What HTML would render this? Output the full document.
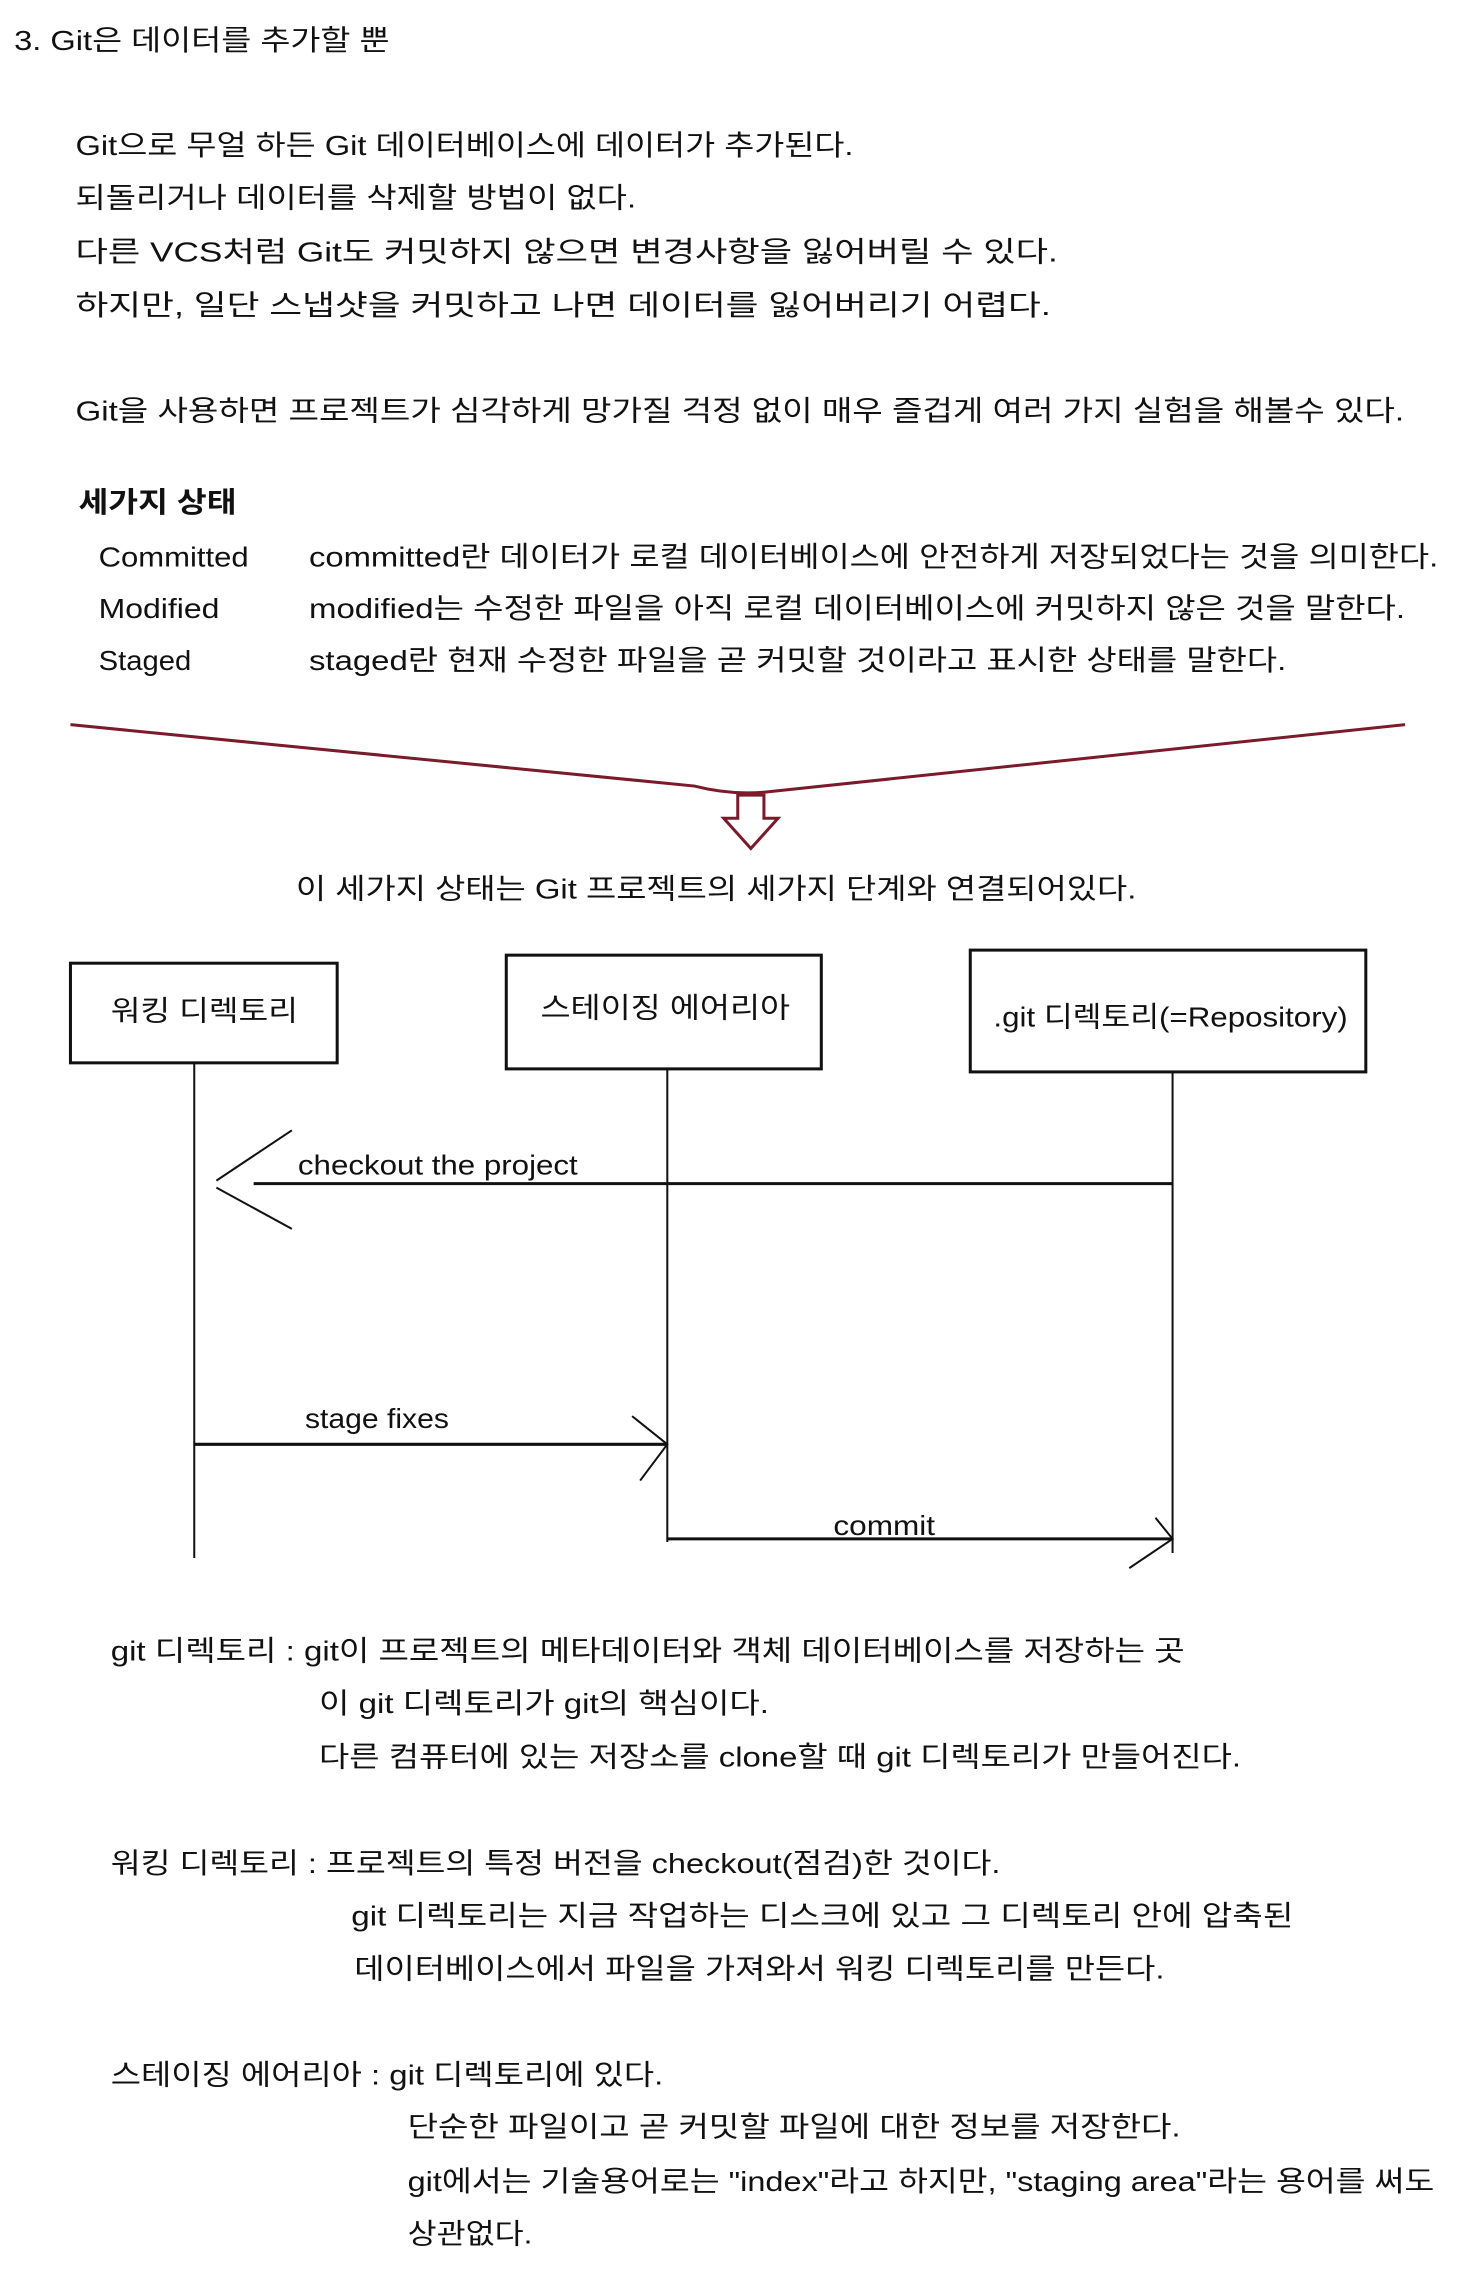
<!DOCTYPE html>
<html><head><meta charset="utf-8"><style>
html,body{margin:0;padding:0;background:#fff;}
svg{display:block;}
text{font-family:"Liberation Sans","Noto Sans CJK KR",sans-serif;font-size:28px;fill:#111;dominant-baseline:central;}
</style></head><body>
<svg width="1477" height="2276" viewBox="0 0 1477 2276" xmlns="http://www.w3.org/2000/svg">
<g transform="translate(0,3) scale(1.0065,1.0065)">
<text x="14" y="37" textLength="373" lengthAdjust="spacingAndGlyphs">3. Git은 데이터를 추가할 뿐</text>
<text x="75" y="141" textLength="773" lengthAdjust="spacingAndGlyphs">Git으로 무얼 하든 Git 데이터베이스에 데이터가 추가된다.</text>
<text x="75" y="193" textLength="557" lengthAdjust="spacingAndGlyphs">되돌리거나 데이터를 삭제할 방법이 없다.</text>
<text x="75" y="247" textLength="976" lengthAdjust="spacingAndGlyphs">다른 VCS처럼 Git도 커밋하지 않으면 변경사항을 잃어버릴 수 있다.</text>
<text x="75" y="300" textLength="969" lengthAdjust="spacingAndGlyphs">하지만, 일단 스냅샷을 커밋하고 나면 데이터를 잃어버리기 어렵다.</text>
<text x="75" y="405" textLength="1320" lengthAdjust="spacingAndGlyphs">Git을 사용하면 프로젝트가 심각하게 망가질 걱정 없이 매우 즐겁게 여러 가지 실험을 해볼수 있다.</text>
<text x="78" y="496" textLength="157" lengthAdjust="spacingAndGlyphs" font-weight="bold">세가지 상태</text>
<text x="98" y="550" textLength="149" lengthAdjust="spacingAndGlyphs">Committed</text>
<text x="98" y="601" textLength="120" lengthAdjust="spacingAndGlyphs">Modified</text>
<text x="98" y="653" textLength="92" lengthAdjust="spacingAndGlyphs">Staged</text>
<text x="307" y="550" textLength="1122" lengthAdjust="spacingAndGlyphs">committed란 데이터가 로컬 데이터베이스에 안전하게 저장되었다는 것을 의미한다.</text>
<text x="307" y="601" textLength="1089" lengthAdjust="spacingAndGlyphs">modified는 수정한 파일을 아직 로컬 데이터베이스에 커밋하지 않은 것을 말한다.</text>
<text x="307" y="653" textLength="971" lengthAdjust="spacingAndGlyphs">staged란 현재 수정한 파일을 곧 커밋할 것이라고 표시한 상태를 말한다.</text>
<path d="M70 717 L690 778 Q725 787 760 784 L1396 717" fill="none" stroke="#7a1a2a" stroke-width="3"/>
<path d="M733 787 L759 787 L759 810 L773 810 L746 840 L719 810 L733 810 Z" fill="#fff" stroke="#7a1a2a" stroke-width="3"/>
<text x="294" y="880" textLength="835" lengthAdjust="spacingAndGlyphs">이 세가지 상태는 Git 프로젝트의 세가지 단계와 연결되어있다.</text>
<g fill="none" stroke="#111">
<rect x="70" y="954" width="265" height="99" stroke-width="3"/>
<rect x="503" y="946" width="313" height="113" stroke-width="3"/>
<rect x="964" y="941" width="393" height="121" stroke-width="3"/>
<line x1="193" y1="1053" x2="193" y2="1545" stroke-width="2"/>
<line x1="663" y1="1059" x2="663" y2="1529" stroke-width="2"/>
<line x1="1165" y1="1062" x2="1165" y2="1540" stroke-width="2"/>
<line x1="252" y1="1173" x2="1165" y2="1173" stroke-width="3"/>
<polyline points="290,1120 215,1170" stroke-width="2"/>
<polyline points="215,1177 290,1218" stroke-width="2"/>
<line x1="193" y1="1432" x2="663" y2="1432" stroke-width="3"/>
<polyline points="628,1404 663,1432 636,1468" stroke-width="2"/>
<line x1="663" y1="1526" x2="1165" y2="1526" stroke-width="3"/>
<polyline points="1148,1505 1165,1526 1122,1555" stroke-width="2"/>
</g>
<text x="110" y="1001" textLength="186" lengthAdjust="spacingAndGlyphs">워킹 디렉토리</text>
<text x="537" y="998" textLength="248" lengthAdjust="spacingAndGlyphs">스테이징 에어리아</text>
<text x="987" y="1007" textLength="352" lengthAdjust="spacingAndGlyphs">.git 디렉토리(=Repository)</text>
<text x="296" y="1154" textLength="278" lengthAdjust="spacingAndGlyphs">checkout the project</text>
<text x="303" y="1406" textLength="143" lengthAdjust="spacingAndGlyphs">stage fixes</text>
<text x="828" y="1512" textLength="101" lengthAdjust="spacingAndGlyphs">commit</text>
<text x="110" y="1637" textLength="1067" lengthAdjust="spacingAndGlyphs">git 디렉토리 : git이 프로젝트의 메타데이터와 객체 데이터베이스를 저장하는 곳</text>
<text x="317" y="1689" textLength="447" lengthAdjust="spacingAndGlyphs">이 git 디렉토리가 git의 핵심이다.</text>
<text x="317" y="1742" textLength="916" lengthAdjust="spacingAndGlyphs">다른 컴퓨터에 있는 저장소를 clone할 때 git 디렉토리가 만들어진다.</text>
<text x="110" y="1848" textLength="884" lengthAdjust="spacingAndGlyphs">워킹 디렉토리 : 프로젝트의 특정 버전을 checkout(점검)한 것이다.</text>
<text x="349" y="1900" textLength="936" lengthAdjust="spacingAndGlyphs">git 디렉토리는 지금 작업하는 디스크에 있고 그 디렉토리 안에 압축된</text>
<text x="352" y="1953" textLength="805" lengthAdjust="spacingAndGlyphs">데이터베이스에서 파일을 가져와서 워킹 디렉토리를 만든다.</text>
<text x="110" y="2058" textLength="549" lengthAdjust="spacingAndGlyphs">스테이징 에어리아 : git 디렉토리에 있다.</text>
<text x="405" y="2110" textLength="768" lengthAdjust="spacingAndGlyphs">단순한 파일이고 곧 커밋할 파일에 대한 정보를 저장한다.</text>
<text x="405" y="2164" textLength="1020" lengthAdjust="spacingAndGlyphs">git에서는 기술용어로는 "index"라고 하지만, "staging area"라는 용어를 써도</text>
<text x="405" y="2216" textLength="124" lengthAdjust="spacingAndGlyphs">상관없다.</text>
</g>
</svg>
</body></html>
